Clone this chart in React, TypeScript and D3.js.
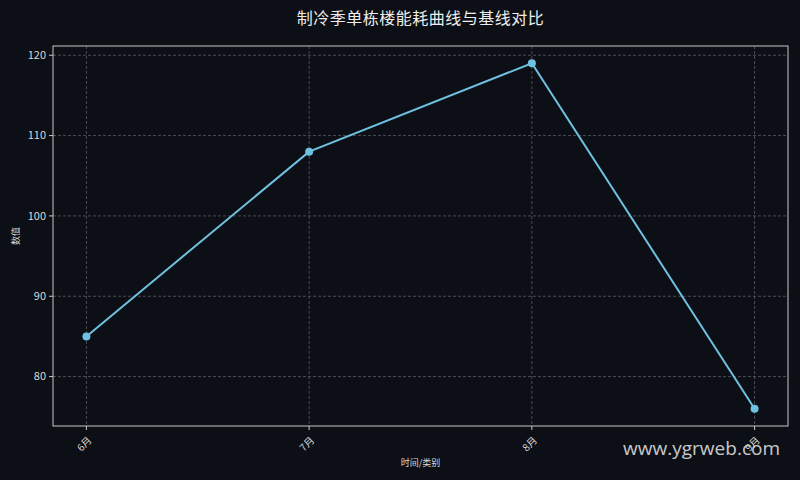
import React, { useEffect, useRef } from 'react';
import * as d3 from 'd3';

const months = ['6月', '7月', '8月', '9月'];
const energy = [85, 108, 119, 76];
const yTicks = [80, 90, 100, 110, 120];

const W = 800;
const H = 480;
const FONT = '"Noto Sans CJK SC", "DejaVu Sans", sans-serif';

export default function App() {
  const svgRef = useRef<SVGSVGElement>(null);

  useEffect(() => {
    if (!svgRef.current) return;
    const svg = d3.select(svgRef.current);
    svg.selectAll('*').remove();

    const margin = { top: 46, right: 12, bottom: 54, left: 53 };
    const innerW = W - margin.left - margin.right;
    const innerH = H - margin.top - margin.bottom;

    svg.append('rect').attr('width', W).attr('height', H).attr('fill', '#0c0f15');

    const n = months.length;
    const pad = (n - 1) * 0.05;
    const x = d3.scaleLinear().domain([-pad, n - 1 + pad]).range([0, innerW]);

    const lo = d3.min(energy) as number;
    const hi = d3.max(energy) as number;
    const yPad = (hi - lo) * 0.05;
    const y = d3.scaleLinear().domain([lo - yPad, hi + yPad]).range([innerH, 0]);

    const g = svg.append('g').attr('transform', `translate(${margin.left},${margin.top})`);

    // grid
    g.selectAll('.gx')
      .data(months)
      .join('line')
      .attr('x1', (_, i) => x(i))
      .attr('x2', (_, i) => x(i))
      .attr('y1', 0)
      .attr('y2', innerH)
      .attr('stroke', '#5a5d63')
      .attr('stroke-width', 0.8)
      .attr('stroke-dasharray', '3,2');

    g.selectAll('.gy')
      .data(yTicks)
      .join('line')
      .attr('x1', 0)
      .attr('x2', innerW)
      .attr('y1', d => y(d))
      .attr('y2', d => y(d))
      .attr('stroke', '#5a5d63')
      .attr('stroke-width', 0.8)
      .attr('stroke-dasharray', '3,2');

    // frame
    g.append('rect')
      .attr('width', innerW)
      .attr('height', innerH)
      .attr('fill', 'none')
      .attr('stroke', '#c8c8c8')
      .attr('stroke-width', 1);

    // y ticks
    yTicks.forEach(t => {
      g.append('line')
        .attr('x1', -4).attr('x2', 0)
        .attr('y1', y(t)).attr('y2', y(t))
        .attr('stroke', '#c8c8c8');
      g.append('text')
        .attr('x', -7)
        .attr('y', y(t))
        .attr('dy', '0.35em')
        .attr('text-anchor', 'end')
        .attr('fill', '#d8d8d8')
        .attr('font-size', 11)
        .attr('font-family', FONT)
        .text(t);
    });

    // x ticks
    months.forEach((m, i) => {
      g.append('line')
        .attr('x1', x(i)).attr('x2', x(i))
        .attr('y1', innerH).attr('y2', innerH + 4)
        .attr('stroke', '#c8c8c8');
      g.append('text')
        .attr('transform', `translate(${x(i) - 2},${innerH + 18}) rotate(-45)`)
        .attr('text-anchor', 'middle')
        .attr('dy', '0.35em')
        .attr('fill', '#d8d8d8')
        .attr('font-size', 10)
        .attr('font-family', FONT)
        .text(m);
    });

    const line = d3.line<number>()
      .x((_, i) => x(i))
      .y(d => y(d));

    g.append('path')
      .datum(energy)
      .attr('d', line)
      .attr('fill', 'none')
      .attr('stroke', '#6ec1e0')
      .attr('stroke-width', 2);

    g.selectAll('.pt')
      .data(energy)
      .join('circle')
      .attr('cx', (_, i) => x(i))
      .attr('cy', d => y(d))
      .attr('r', 4)
      .attr('fill', '#6ec1e0');

    // title and axis labels
    svg.append('text')
      .attr('x', margin.left + innerW / 2)
      .attr('y', 24)
      .attr('text-anchor', 'middle')
      .attr('fill', '#eeeeee')
      .attr('font-size', 16)
      .attr('letter-spacing', 0.5)
      .attr('font-family', FONT)
      .text('制冷季单栋楼能耗曲线与基线对比');

    svg.append('text')
      .attr('x', margin.left + innerW / 2)
      .attr('y', 466)
      .attr('text-anchor', 'middle')
      .attr('fill', '#d8d8d8')
      .attr('font-size', 9)
      .attr('font-family', FONT)
      .text('时间/类别');

    svg.append('text')
      .attr('transform', `translate(19,${margin.top + innerH / 2}) rotate(-90)`)
      .attr('text-anchor', 'middle')
      .attr('fill', '#d8d8d8')
      .attr('font-size', 9)
      .attr('font-family', FONT)
      .text('数值');

    // watermark
    svg.append('text')
      .attr('x', 780)
      .attr('y', 455)
      .attr('text-anchor', 'end')
      .attr('fill', '#e0e0e0')
      .attr('fill-opacity', 0.9)
      .attr('font-size', 19)
      .attr('font-family', '"Open Sans", "Noto Sans", sans-serif')
      .text('www.ygrweb.com');
  }, []);

  return (
    <div style={{ position: 'absolute', left: 0, top: 0 }}>
      <svg ref={svgRef} width={W} height={H} style={{ display: 'block' }} />
    </div>
  );
}
